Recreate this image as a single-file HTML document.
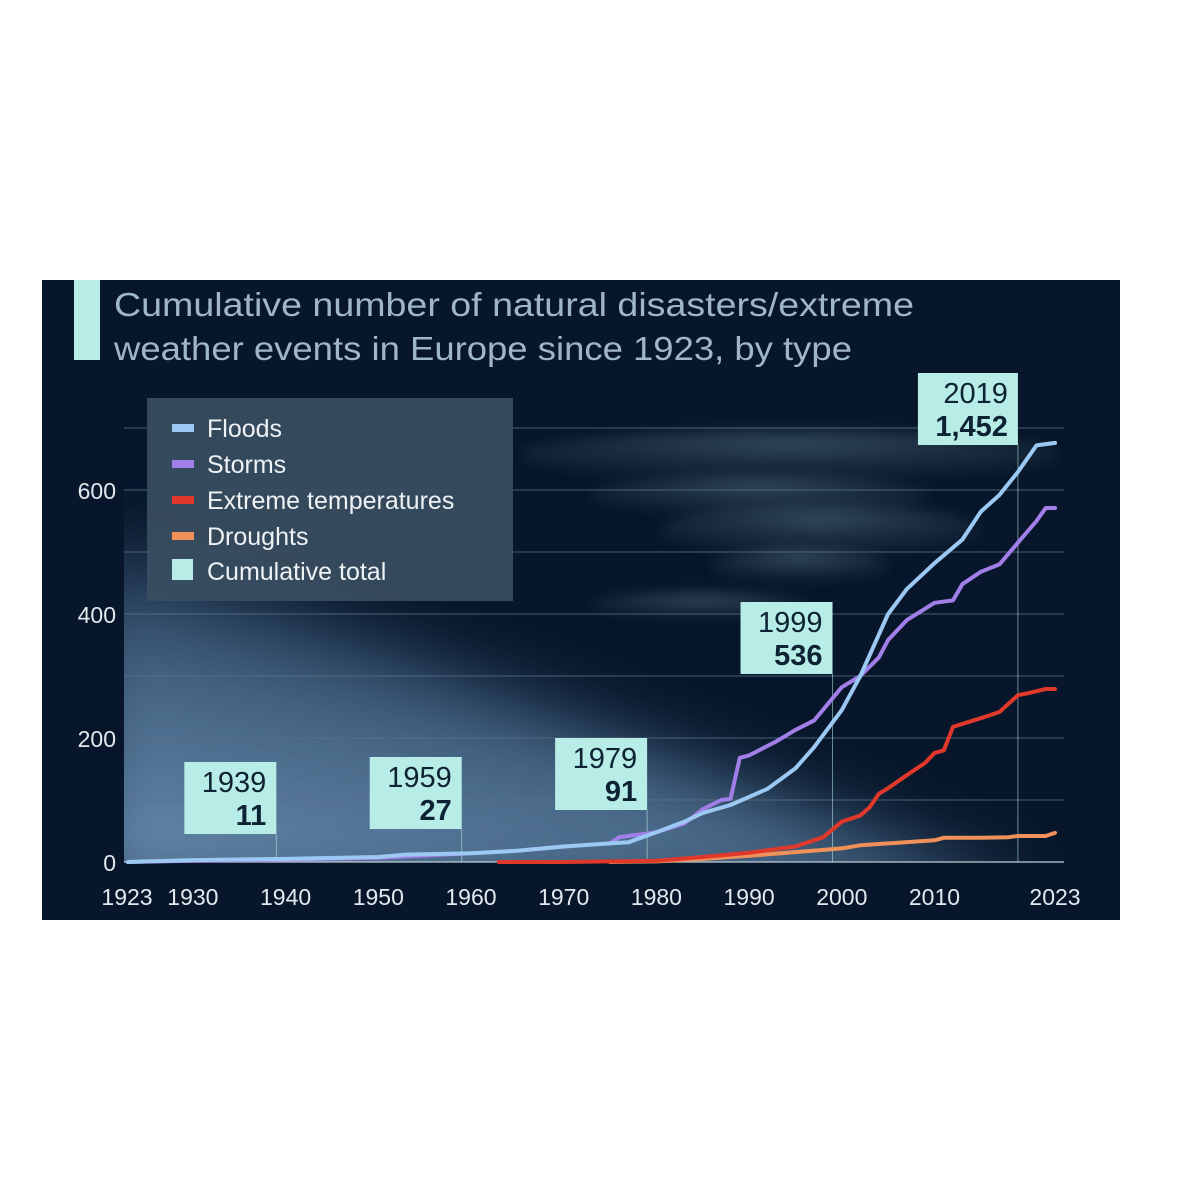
<!DOCTYPE html>
<html><head><meta charset="utf-8"><style>
html,body{margin:0;padding:0;background:#fff;}
svg{display:block;}
text{font-family:"Liberation Sans",sans-serif;}
</style></head><body>
<svg id="chart" width="1200" height="1200" viewBox="0 0 1200 1200" xmlns="http://www.w3.org/2000/svg">
<defs>
<linearGradient id="glow" x1="0" y1="1" x2="0.6" y2="0">
<stop offset="0" stop-color="#6f93b6" stop-opacity="1"/>
<stop offset="0.5" stop-color="#4d6f90" stop-opacity="0.85"/>
<stop offset="1" stop-color="#07162a" stop-opacity="0"/>
</linearGradient>
<radialGradient id="cloud" cx="0.5" cy="0.3" r="0.7">
<stop offset="0" stop-color="#6a8a96" stop-opacity="0.6"/>
<stop offset="1" stop-color="#2a4152" stop-opacity="0.15"/>
</radialGradient>
<filter id="blur" x="-30%" y="-30%" width="160%" height="160%"><feGaussianBlur stdDeviation="35"/></filter>
<filter id="blur2"><feGaussianBlur stdDeviation="6"/></filter>
<clipPath id="plotclip"><rect x="124" y="420" width="940" height="442"/></clipPath>
</defs>
<rect x="42" y="280" width="1078" height="640" fill="#07162a"/>
<g clip-path="url(#plotclip)">
<polygon points="80,520 80,900 1040,900" fill="url(#glow)" filter="url(#blur)"/>
</g>
<g opacity="0.75" filter="url(#blur2)">
<ellipse cx="790" cy="455" rx="270" ry="26" fill="url(#cloud)"/>
<ellipse cx="760" cy="495" rx="170" ry="20" fill="url(#cloud)"/>
<ellipse cx="820" cy="530" rx="160" ry="26" fill="url(#cloud)"/>
<ellipse cx="800" cy="565" rx="90" ry="17" fill="url(#cloud)"/>
<ellipse cx="700" cy="605" rx="110" ry="13" fill="url(#cloud)"/>
</g>
<g id="grid"></g>
<g id="yaxis"></g>
<g id="xaxis"></g>
<g id="annots"></g>
<g id="lines"></g>
<rect x="74" y="280" width="26" height="80" fill="#b8ece6"/>
<text x="114" y="316" font-size="33" fill="#9fb6c6" textLength="800" lengthAdjust="spacingAndGlyphs">Cumulative number of natural disasters/extreme</text>
<text x="114" y="360" font-size="33" fill="#9fb6c6" textLength="738" lengthAdjust="spacingAndGlyphs">weather events in Europe since 1923, by type</text>
<g>
<rect x="147" y="398" width="366" height="203" fill="#3a4f61" fill-opacity="0.9"/>
<g><rect x="172" y="424" width="22" height="8" fill="#9cc9f3"/><text x="207" y="437" font-size="25" fill="#eef2f5">Floods</text></g>
<g><rect x="172" y="460" width="22" height="8" fill="#a27ee8"/><text x="207" y="473" font-size="25" fill="#eef2f5">Storms</text></g>
<g><rect x="172" y="496" width="22" height="8" fill="#e0392c"/><text x="207" y="509" font-size="25" fill="#eef2f5">Extreme temperatures</text></g>
<g><rect x="172" y="532" width="22" height="8" fill="#f0915a"/><text x="207" y="545" font-size="25" fill="#eef2f5">Droughts</text></g>
<g><rect x="172" y="559" width="21" height="21" fill="#b8ece6"/><text x="207" y="580" font-size="25" fill="#eef2f5">Cumulative total</text></g>
</g>
</svg>
<script>
const gridTicks = [0,100,200,300,400,500,600,700];
const yLabels = [0,200,400,600];
const xTicks = [1923,1930,1940,1950,1960,1970,1980,1990,2000,2010,2023];
const floodYears = [1923,1925,1930,1940,1950,1953,1960,1965,1970,1975,1977,1980,1983,1985,1988,1990,1992,1995,1997,2000,2002,2005,2007,2010,2013,2015,2017,2019,2021,2023];
const floodVals  = [0,1,3,5,8,12,14,18,25,30,32,48,65,79,92,105,118,151,185,245,300,400,440,482,520,565,592,629,672,676];
const stormYears = [1923,1930,1940,1950,1960,1965,1970,1975,1976,1980,1983,1985,1987,1988,1989,1990,1993,1995,1997,2000,2002,2004,2005,2007,2010,2012,2013,2015,2017,2019,2021,2022,2023];
const stormVals  = [0,2,4,7,14,18,25,30,40,48,62,85,100,102,168,172,195,213,228,282,300,330,358,390,418,422,448,468,480,515,550,571,571];
const tempYears = [1963,1970,1975,1980,1985,1990,1995,1997,1998,2000,2002,2003,2004,2005,2007,2009,2010,2011,2012,2015,2017,2019,2020,2022,2023];
const tempVals  = [0,0,1,2,8,15,25,35,40,65,75,88,110,119,140,160,176,180,218,232,242,269,272,279,279];
const droughtYears = [1975,1980,1985,1990,1995,2000,2002,2005,2010,2011,2015,2018,2019,2022,2023];
const droughtVals  = [0,1,5,10,16,22,27,30,35,39,39,40,42,42,47];
const annYears = [1939,1959,1979,1999,2019];
const annTotals = ["11","27","91","536","1,452"];
const annTop = [762,757,738,602,373];

const NS="http://www.w3.org/2000/svg";
const X0=128, XS=9.27, Y0=862, YS=0.62;
function xPos(yr){return X0+(yr-1923)*XS;}
function yPos(v){return Y0-v*YS;}
function mk(tag,attrs,parent){const e=document.createElementNS(NS,tag);for(const k in attrs)e.setAttribute(k,attrs[k]);parent.appendChild(e);return e;}

const grid=document.getElementById('grid');
gridTicks.forEach(t=>{
  const l=mk('line',{x1:124,x2:1064,y1:yPos(t),y2:yPos(t),stroke:t===0?'#c8d6e0':'#5a7186','stroke-width':t===0?1.5:1,'stroke-opacity':0.8},grid);
  
  
});
const ya=document.getElementById('yaxis');
yLabels.forEach(t=>{
  const tx=mk('text',{x:116,y:yPos(t)+9,'font-size':23,fill:'#e2e8ee','text-anchor':'end'},ya);
  tx.textContent=t;
  
  
});
const xa=document.getElementById('xaxis');
xTicks.forEach(t=>{
  const tx=mk('text',{x:xPos(t)+(t===1923?-1:0),y:905,'font-size':23,fill:'#e2e8ee','text-anchor':'middle'},xa);
  tx.textContent=t;
  
  
});
const an=document.getElementById('annots');
annYears.forEach((yr,i)=>{
  const x=xPos(yr), top=annTop[i];
  const w = i===4?100:92, h=72;
  const g=mk('g',{},an);
  
  
  mk('line',{x1:x,x2:x,y1:top+h,y2:Y0,stroke:'#b8ece6','stroke-opacity':0.55,'stroke-width':1},g);
  mk('rect',{x:x-w,y:top,width:w,height:h,fill:'#b8ece6'},g);
  const t1=mk('text',{x:x-10,y:top+30,'font-size':29,fill:'#0d2233','text-anchor':'end'},g);
  t1.textContent=yr;
  const t2=mk('text',{x:x-10,y:top+63,'font-size':29,'font-weight':'bold',fill:'#0d2233','text-anchor':'end'},g);
  t2.textContent=annTotals[i];
});
const ln=document.getElementById('lines');
function drawSeries(years,vals,color,name){
  const d=years.map((y,i)=>(i?'L':'M')+xPos(y).toFixed(1)+','+yPos(vals[i]).toFixed(1)).join(' ');
  const p=mk('path',{d:d,fill:'none',stroke:color,'stroke-width':4,'stroke-linejoin':'round','stroke-linecap':'round'},ln);
  
  
}
drawSeries(droughtYears,droughtVals,'#f0915a','droughts-line');
drawSeries(tempYears,tempVals,'#e0392c','extreme-temperatures-line');
drawSeries(stormYears,stormVals,'#a27ee8','storms-line');
drawSeries(floodYears,floodVals,'#9cc9f3','floods-line');
</script>
</body></html>
